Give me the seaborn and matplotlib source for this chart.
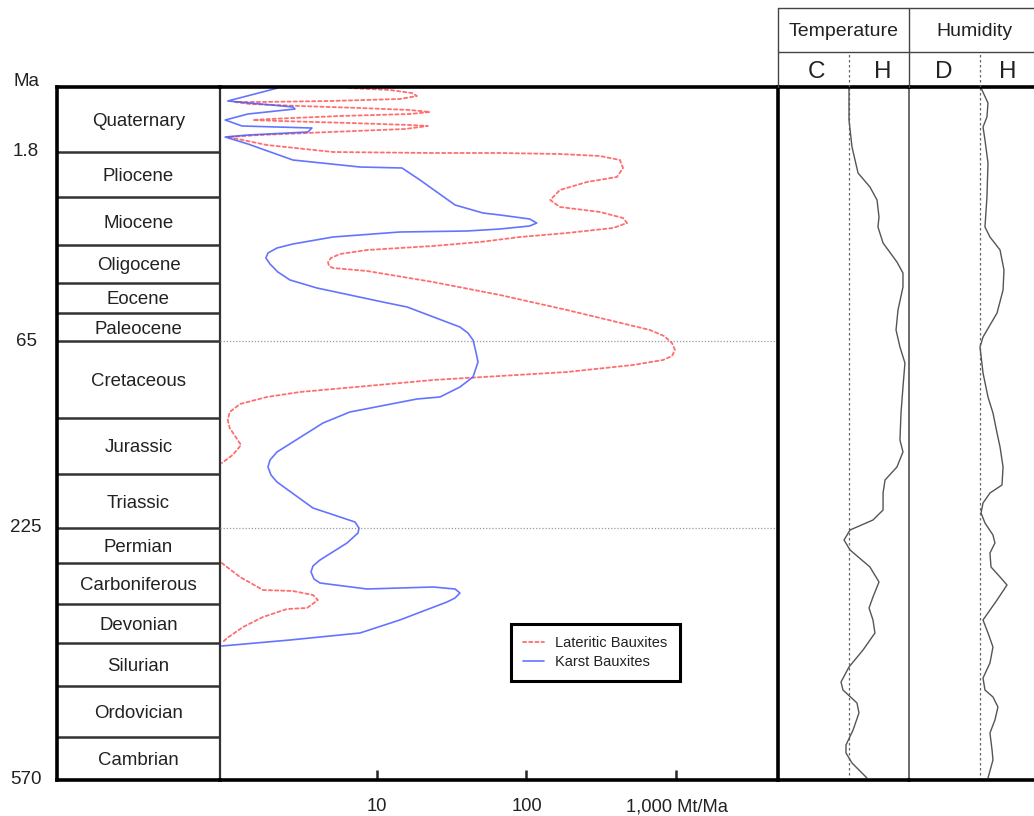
import matplotlib
matplotlib.use("Agg")
import matplotlib.pyplot as plt
import numpy as np
import pandas as pd
import seaborn as sns

# ---------------------------------------------------------------------------
# Stratigraphic column (positions along the column scale, top = 0)
# ---------------------------------------------------------------------------
periods = ["Quaternary", "Pliocene", "Miocene", "Oligocene", "Eocene", "Paleocene",
           "Cretaceous", "Jurassic", "Triassic", "Permian", "Carboniferous",
           "Devonian", "Silurian", "Ordovician", "Cambrian"]
boundaries = [0, 65, 110, 158, 196, 226, 254, 331, 387, 441, 476, 517, 556, 599, 650, 693]
age_labels = ["Ma", "1.8", "65", "225", "570"]
age_label_pos = [-6, 65, 254, 441, 693]
marker_ages_pos = [254, 441]          # 65 Ma and 225 Ma reference lines

# ---------------------------------------------------------------------------
# Bauxite accumulation rates (Mt/Ma) against column position
# ---------------------------------------------------------------------------
lateritic_flux_a = [6.46, 12.3, 17.2, 18.6, 14.3, 4.90, 1.67, 1.14, 1.43, 3.09,
                    7.76, 16.7, 22.7, 16.7, 5.71, 1.95, 1.50, 2.27, 6.65, 16.7,
                    22.0, 15.5, 4.90, 1.67, 1.02, 1.86, 5.13, 23.8, 66.6, 167,
                    309, 420, 440, 401, 253, 167, 144, 167, 309, 440,
                    468, 378, 186, 90.5, 49.0, 23.8, 8.65, 5.71, 4.97, 4.75,
                    4.82, 5.13, 8.65, 23.8, 66.6, 186, 401, 665, 826, 933,
                    977, 933, 813, 513, 186, 66.6, 23.8, 8.65, 3.09, 1.86,
                    1.23, 1.05, 1.02, 1.05, 1.25, 1.10, 0.93]
lateritic_pos_a = [1, 3, 6, 9, 12, 14, 15, 15, 17, 19,
                   21, 23, 25, 27, 29, 32, 33, 34, 36, 38,
                   39, 42, 45, 48, 50, 58, 65, 66, 66, 67,
                   69, 73, 81, 90, 95, 103, 113, 120, 125, 131,
                   136, 141, 146, 150, 155, 159, 163, 167, 171, 175,
                   179, 181, 184, 195, 208, 223, 235, 243, 249, 256,
                   263, 269, 273, 278, 285, 289, 293, 299, 305, 310,
                   317, 325, 333, 341, 358, 368, 376]
lateritic_flux_b = [0.93, 1.23, 1.75, 2.77, 3.77, 4.07, 3.44, 2.53, 1.75, 1.29, 1.01, 0.93]
lateritic_pos_b = [476, 490, 503, 504, 508, 513, 521, 522, 530, 540, 551, 556]

karst_flux = [2.20, 1.02, 2.77, 2.86, 1.39, 0.98, 1.27, 3.71, 3.49, 1.39,
              0.98, 1.39, 2.77, 7.76, 14.8, 19.5, 33.4, 51.3, 66.6, 105,
              117, 105, 66.6, 40.1, 14.3, 5.13, 2.77, 2.17, 1.89, 1.83,
              1.95, 2.20, 2.65, 4.01, 11.0, 16.0, 36.0, 40.7, 44.0, 46.0,
              47.5, 44.0, 36.0, 26.5, 18.6, 6.65, 4.40, 2.17, 1.95, 1.89,
              1.98, 2.17, 3.77, 5.71, 7.19, 7.64, 7.53, 6.36, 4.20, 3.77,
              3.66, 3.83, 4.20, 8.65, 23.8, 33.4, 36.0, 33.4, 29.5, 14.3,
              7.76, 2.65, 0.93]
karst_pos = [1, 14, 20, 22, 27, 33, 39, 41, 45, 48,
             50, 57, 73, 80, 81, 93, 118, 126, 128, 132,
             136, 139, 142, 144, 145, 150, 157, 161, 166, 171,
             177, 185, 193, 201, 215, 220, 240, 246, 253, 265,
             275, 290, 300, 310, 312, 325, 336, 365, 373, 380,
             388, 395, 421, 430, 435, 441, 446, 456, 473, 479,
             485, 492, 496, 502, 500, 502, 506, 511, 515, 533,
             546, 553, 559]

# ---------------------------------------------------------------------------
# Palaeoclimate indices (0 = cold / dry edge, 1 = hot / humid edge)
# ---------------------------------------------------------------------------
neutral_level = 0.54
temperature = [0.542, 0.542, 0.565, 0.611, 0.702, 0.756, 0.771, 0.763, 0.802, 0.908,
               0.954, 0.954, 0.916, 0.901, 0.931, 0.969, 0.954, 0.939, 0.931, 0.954,
               0.908, 0.817, 0.802, 0.802, 0.725, 0.550, 0.504, 0.550, 0.702, 0.771,
               0.725, 0.695, 0.725, 0.740, 0.649, 0.542, 0.481, 0.496, 0.603, 0.618,
               0.573, 0.519, 0.519, 0.565, 0.679]
temperature_pos = [0, 33, 60, 86, 100, 113, 130, 140, 156, 175,
                   186, 200, 223, 243, 260, 276, 300, 326, 353, 365,
                   380, 393, 406, 423, 433, 443, 453, 463, 480, 495,
                   510, 521, 533, 546, 563, 580, 595, 603, 616, 626,
                   643, 658, 666, 676, 691]
humidity = [0.550, 0.603, 0.595, 0.565, 0.580, 0.603, 0.595, 0.580, 0.618, 0.695,
            0.725, 0.718, 0.672, 0.565, 0.542, 0.565, 0.603, 0.641, 0.672, 0.695,
            0.718, 0.710, 0.618, 0.565, 0.550, 0.580, 0.641, 0.656, 0.618, 0.626,
            0.695, 0.748, 0.672, 0.565, 0.603, 0.641, 0.618, 0.565, 0.580, 0.641,
            0.679, 0.656, 0.618, 0.634, 0.641, 0.603]
humidity_pos = [1, 16, 30, 40, 53, 76, 110, 140, 150, 163,
                183, 203, 226, 250, 260, 286, 310, 326, 346, 360,
                380, 398, 406, 416, 426, 436, 448, 456, 466, 480,
                490, 498, 513, 533, 546, 560, 576, 591, 603, 610,
                620, 633, 646, 663, 673, 691]

flux_ticks = [10, 100, 1000]
flux_tick_labels = ["10", "100", "1,000 Mt/Ma"]
climate_headers = ["Temperature", "Humidity"]
climate_poles = ["C", "H", "D", "H"]

# ---------------------------------------------------------------------------
sns.set_theme(style="white")
plt.rcParams["font.family"] = ["Liberation Sans", "DejaVu Sans"]
plt.rcParams["axes.unicode_minus"] = False

W, H = 1034, 816
fig = plt.figure(figsize=(W / 100, H / 100), dpi=100)
fig.patch.set_facecolor("white")


def frac_box(x0, y0, x1, y1):
    return [x0 / W, 1 - y1 / H, (x1 - x0) / W, (y1 - y0) / H]


ax_col = fig.add_axes(frac_box(57, 87, 220, 780))
ax = fig.add_axes(frac_box(220, 87, 778, 780))
ax_t = fig.add_axes(frac_box(778, 87, 909, 780))
ax_h = fig.add_axes(frac_box(909, 87, 1040, 780))
ax_head = fig.add_axes(frac_box(778, 8, 1040, 87))

ink = "#222222"
ylim = (boundaries[-1], boundaries[0])
for a in (ax_col, ax, ax_t, ax_h):
    a.set_ylim(*ylim)
    a.patch.set_alpha(0)
    a.set_yticks([])
    for s in a.spines.values():
        s.set_color("black")
        s.set_linewidth(2.6)

# --- stratigraphic column ---------------------------------------------------
ax_col.set_xlim(0, 1)
ax_col.set_xticks([])
ax_col.spines["right"].set_linewidth(1.6)
ax_col.spines["right"].set_color("#333333")
ax_col.hlines(boundaries[1:-1], 0, 1, color="#333333", lw=1.8)
for name, top, bot in zip(periods, boundaries[:-1], boundaries[1:]):
    ax_col.text(0.5, (top + bot) / 2, name, ha="center", va="center_baseline",
                fontsize=13.4, color=ink)
ytrans = ax_col.get_yaxis_transform()
for lab, pos in zip(age_labels, age_label_pos):
    ax_col.text(-0.19, pos, lab, transform=ytrans, ha="center", va="center",
                fontsize=13.5, color=ink, clip_on=False)

# --- bauxite accumulation curves ---------------------------------------------
ax.set_xscale("log")
ax.set_xlim(0.905, 4750)
for p in marker_ages_pos:
    ax.axhline(p, color="#9a9a9a", lw=0.9, ls=(0, (1, 1.5)), zorder=1)

lat_style = dict(color="#ff4a4a", lw=1.3, alpha=0.8, linestyle=(0, (1.8, 1.6)),
                 dash_joinstyle="round", dash_capstyle="round")
kar_style = dict(color="#4a5cff", lw=1.2, alpha=0.85, solid_joinstyle="round")
sns.lineplot(x=lateritic_flux_a, y=lateritic_pos_a, sort=False, estimator=None,
             ax=ax, label="Lateritic Bauxites", **lat_style)
sns.lineplot(x=lateritic_flux_b, y=lateritic_pos_b, sort=False, estimator=None,
             ax=ax, label="_nolegend_", **lat_style)
sns.lineplot(x=karst_flux, y=karst_pos, sort=False, estimator=None,
             ax=ax, label="Karst Bauxites", **kar_style)
ax.set_ylim(*ylim)
ax.set_xlabel("")
ax.set_ylabel("")
ax.spines["left"].set_visible(False)
ax.set_xticks(flux_ticks)
ax.set_xticklabels(flux_tick_labels)
ax.xaxis.set_minor_locator(matplotlib.ticker.NullLocator())
ax.tick_params(axis="x", which="major", direction="in", length=7, width=1.8,
               bottom=True, top=False, pad=13, labelsize=13.2, labelcolor=ink)

leg = ax.legend(loc="upper left", bbox_to_anchor=(511 / W, 1 - 624 / H),
                bbox_transform=fig.transFigure, frameon=True, fancybox=False,
                fontsize=10.5, handlelength=1.4, handletextpad=0.8,
                borderpad=0.85, labelspacing=0.3, borderaxespad=0)
leg.get_frame().set_edgecolor("black")
leg.get_frame().set_linewidth(2.2)
leg.get_frame().set_facecolor("white")
leg.get_frame().set_alpha(1)
for t in leg.get_texts():
    t.set_color(ink)

# --- palaeoclimate panels ----------------------------------------------------
curve_style = dict(color="#555555", lw=1.0, solid_joinstyle="round")
for a, vals, pos in ((ax_t, temperature, temperature_pos), (ax_h, humidity, humidity_pos)):
    a.set_xlim(0, 1)
    a.axvline(neutral_level, color="#666666", lw=0.9, ls=(0, (2, 2)))
    sns.lineplot(x=vals, y=pos, sort=False, estimator=None, ax=a, **curve_style)
    a.set_ylim(*ylim)
    a.set_xticks([])
    a.set_xlabel("")
    a.set_ylabel("")
    a.spines["left"].set_visible(False)
    a.spines["right"].set_visible(False)
ax_t.axvline(1, color="#444444", lw=1.1, clip_on=False)

# --- climate header ----------------------------------------------------------
ax_head.set_xlim(0, 1)
ax_head.set_ylim(0, 1)
ax_head.axis("off")
split = (87 - 52) / 79
hline = dict(color="#444444", lw=1.0, clip_on=False)
ax_head.plot([0, 1], [1, 1], **hline)
ax_head.plot([0, 1], [split, split], **hline)
ax_head.plot([0, 0], [0, 1], **hline)
ax_head.plot([0.5, 0.5], [0, 1], **hline)
for xd in (neutral_level / 2, 0.5 + neutral_level / 2):
    ax_head.plot([xd, xd], [0, split], color="#666666", lw=0.9, ls=(0, (2, 2)))
ax_head.text(0.25, (1 + split) / 2, climate_headers[0], ha="center",
             va="center_baseline", fontsize=14, color=ink)
ax_head.text(0.75, (1 + split) / 2, climate_headers[1], ha="center",
             va="center_baseline", fontsize=14, color=ink)
pole_x = [0.148, 0.398, 0.632, 0.876]
for xp, lab in zip(pole_x, climate_poles):
    ax_head.text(xp, split / 2, lab, ha="center", va="center_baseline",
                 fontsize=17.5, color=ink)

fig.savefig("out.png", dpi=100, facecolor="white")
